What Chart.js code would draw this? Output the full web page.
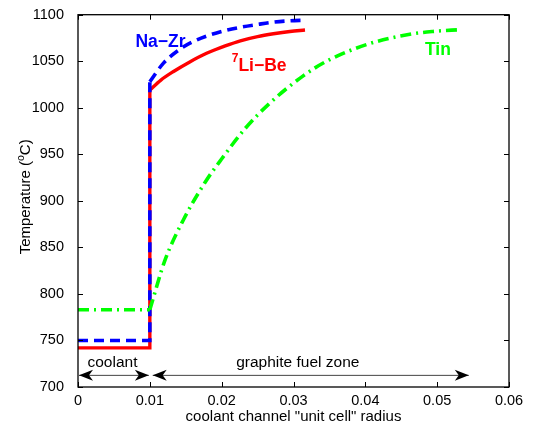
<!DOCTYPE html>
<html>
<head>
<meta charset="utf-8">
<script src="https://cdn.jsdelivr.net/npm/chart.js@4.4.0/dist/chart.umd.min.js"></script>
<style>
  html, body { margin: 0; padding: 0; background: #fff; }
  canvas { display: block; }
</style>
</head>
<body>
<canvas id="chart" width="533" height="430"></canvas>
<script>
// coolant channel edge
const coolantEdge = 0.01;

// flat temperature in the coolant
const liBeCoolant = 742;
const naZrCoolant = 750;
const tinCoolant = 783;

// graphite fuel zone curves
const liBeR = [0.01, 0.0115, 0.0133, 0.0155, 0.0179, 0.0205, 0.0226, 0.0250, 0.0272, 0.0295, 0.0316];
const liBeT = [1019, 1029.5, 1039, 1049, 1058.5, 1066.5, 1072, 1076.5, 1079.5, 1082, 1083.5];

const naZrR = [0.01, 0.0119, 0.0142, 0.0160, 0.0179, 0.0205, 0.0226, 0.0250, 0.0272, 0.0295, 0.0316];
const naZrT = [1028, 1048, 1063, 1071, 1077, 1083, 1086.5, 1089.5, 1092, 1093.5, 1094];

const tinR = [0.01, 0.0121, 0.0147, 0.0177, 0.0198, 0.0233, 0.0267, 0.0313, 0.0346, 0.0402, 0.0462, 0.0494, 0.0533];
const tinT = [783, 836, 880, 920, 943, 978, 1005, 1034, 1050, 1068, 1079, 1082, 1084];

// axis ticks
const xTicks = [0, 0.01, 0.02, 0.03, 0.04, 0.05, 0.06];
const yTicks = [700, 750, 800, 850, 900, 950, 1000, 1050, 1100];

const FONT = '"Liberation Sans", Arial, Helvetica, sans-serif';

function pts(xs, ys) {
    return xs.map((x, i) => ({x: x, y: ys[i]}));
}
function step(level, top) {
    return [{x: 0, y: level}, {x: coolantEdge, y: level}, {x: coolantEdge, y: top}];
}

const redStyle = {borderColor: '#ff0000', borderWidth: 3.4, pointRadius: 0, fill: false};
const blueStyle = {borderColor: '#0000ff', borderWidth: 3.6, borderDash: [10, 6], pointRadius: 0, fill: false};
const greenStyle = {borderColor: '#00ff00', borderWidth: 3.6, borderDash: [11, 5, 2, 5], pointRadius: 0, fill: false};

const datasets = [
    Object.assign({label: 'Tin coolant', data: step(tinCoolant, tinT[0]), tension: 0, order: 1}, greenStyle),
    Object.assign({label: 'Tin', data: pts(tinR, tinT), cubicInterpolationMode: 'monotone', order: 1}, greenStyle),
    Object.assign({label: 'Na-Zr coolant', data: step(naZrCoolant, naZrT[0]), tension: 0, order: 2}, blueStyle),
    Object.assign({label: 'Na-Zr', data: pts(naZrR, naZrT), cubicInterpolationMode: 'monotone', order: 2}, blueStyle),
    Object.assign({label: '7Li-Be coolant', data: step(liBeCoolant, liBeT[0]), tension: 0, order: 3}, redStyle),
    Object.assign({label: '7Li-Be', data: pts(liBeR, liBeT), cubicInterpolationMode: 'monotone', order: 3}, redStyle)
];

function arrowHead(ctx, x, y, dir) {
    // matlab style head, dir = 1 points right, -1 points left
    ctx.beginPath();
    ctx.moveTo(x, y);
    ctx.lineTo(x - dir * 14, y - 5.5);
    ctx.lineTo(x - dir * 10, y);
    ctx.lineTo(x - dir * 14, y + 5.5);
    ctx.closePath();
    ctx.fill();
}

function drawArrow(ctx, x1, x2, y) {
    ctx.strokeStyle = '#444';
    ctx.lineWidth = 1;
    ctx.beginPath();
    ctx.moveTo(x1, y);
    ctx.lineTo(x2, y);
    ctx.stroke();
    ctx.fillStyle = '#000';
    arrowHead(ctx, x1, y, -1);
    arrowHead(ctx, x2, y, 1);
}

const decorations = {
    id: 'decorations',
    afterDraw(chart) {
        const ctx = chart.ctx;
        const xs = chart.scales.x, ys = chart.scales.y;
        const a = chart.chartArea;
        ctx.save();

        // box
        ctx.strokeStyle = '#000';
        ctx.lineWidth = 1.3;
        ctx.strokeRect(a.left, a.top, a.right - a.left, a.bottom - a.top);

        // inward ticks on all sides
        ctx.lineWidth = 1;
        ctx.beginPath();
        xTicks.forEach(v => {
            const px = Math.round(xs.getPixelForValue(v)) + 0.5;
            ctx.moveTo(px, a.bottom); ctx.lineTo(px, a.bottom - 5);
            ctx.moveTo(px, a.top); ctx.lineTo(px, a.top + 5);
        });
        yTicks.forEach(v => {
            const py = Math.round(ys.getPixelForValue(v)) + 0.5;
            ctx.moveTo(a.left, py); ctx.lineTo(a.left + 5, py);
            ctx.moveTo(a.right, py); ctx.lineTo(a.right - 5, py);
        });
        ctx.stroke();

        // zone arrows
        const ay = ys.getPixelForValue(712.5);
        drawArrow(ctx, xs.getPixelForValue(0) + 1, xs.getPixelForValue(coolantEdge) - 1, ay);
        drawArrow(ctx, xs.getPixelForValue(0.0104), xs.getPixelForValue(0.0544), ay);

        // zone labels
        ctx.fillStyle = '#000';
        ctx.font = '15.5px ' + FONT;
        ctx.textAlign = 'center';
        ctx.textBaseline = 'alphabetic';
        const ly = ys.getPixelForValue(722);
        ctx.fillText('coolant', xs.getPixelForValue(0.0048), ly);
        ctx.fillText('graphite fuel zone', xs.getPixelForValue(0.0306), ly);

        // series labels
        ctx.textAlign = 'left';
        ctx.font = 'bold 17.5px ' + FONT;
        ctx.fillStyle = '#0000ff';
        ctx.fillText('Na\u2212Zr', xs.getPixelForValue(0.008), ys.getPixelForValue(1065.5));
        ctx.fillStyle = '#00ff00';
        ctx.fillText('Tin', xs.getPixelForValue(0.0483), ys.getPixelForValue(1057));
        ctx.fillStyle = '#ff0000';
        const lx = xs.getPixelForValue(0.0214);
        const lb = ys.getPixelForValue(1040);
        ctx.font = 'bold 12px ' + FONT;
        ctx.fillText('7', lx, lb - 9);
        const w7 = ctx.measureText('7').width;
        ctx.font = 'bold 17.5px ' + FONT;
        ctx.fillText('Li\u2212Be', lx + w7, lb);

        // axis titles
        ctx.fillStyle = '#000';
        ctx.font = '15px ' + FONT;
        ctx.textAlign = 'center';
        ctx.fillText('coolant channel "unit cell" radius', (a.left + a.right) / 2, 421);

        ctx.translate(30, (a.top + a.bottom) / 2 - 4);
        ctx.rotate(-Math.PI / 2);
        const p1 = 'Temperature (', p3 = 'C)';
        ctx.font = '15px ' + FONT;
        const w1 = ctx.measureText(p1).width, w3 = ctx.measureText(p3).width;
        ctx.font = '10.5px ' + FONT;
        const w2 = ctx.measureText('o').width;
        let sx = -(w1 + w2 + w3) / 2;
        ctx.textAlign = 'left';
        ctx.font = '15px ' + FONT;
        ctx.fillText(p1, sx, 0);
        ctx.font = '10.5px ' + FONT;
        ctx.fillText('o', sx + w1, -6);
        ctx.font = '15px ' + FONT;
        ctx.fillText(p3, sx + w1 + w2, 0);

        ctx.restore();
    }
};

new Chart(document.getElementById('chart'), {
    type: 'line',
    data: {datasets: datasets},
    options: {
        responsive: false,
        devicePixelRatio: 1,
        animation: false,
        layout: {padding: {top: 14, right: 24, left: 0, bottom: 0}},
        plugins: {legend: {display: false}, tooltip: {enabled: false}},
        scales: {
            x: {
                type: 'linear', min: 0, max: 0.06,
                afterFit(s) { s.height = 43; },
                afterBuildTicks(s) { s.ticks = xTicks.map(v => ({value: v})); },
                ticks: {
                    color: '#000', padding: -3, maxRotation: 0, autoSkip: false,
                    font: {size: 14.5, family: FONT},
                    callback: v => v === 0 ? '0' : String(Math.round(v * 100) / 100)
                },
                grid: {display: false},
                border: {display: false}
            },
            y: {
                type: 'linear', min: 700, max: 1100,
                afterFit(s) { s.width = 78; },
                afterBuildTicks(s) { s.ticks = yTicks.map(v => ({value: v})); },
                ticks: {
                    color: '#000', padding: 6, autoSkip: false,
                    font: {size: 14.5, family: FONT},
                    callback: v => String(v)
                },
                grid: {display: false},
                border: {display: false}
            }
        }
    },
    plugins: [decorations]
});
</script>
</body>
</html>
